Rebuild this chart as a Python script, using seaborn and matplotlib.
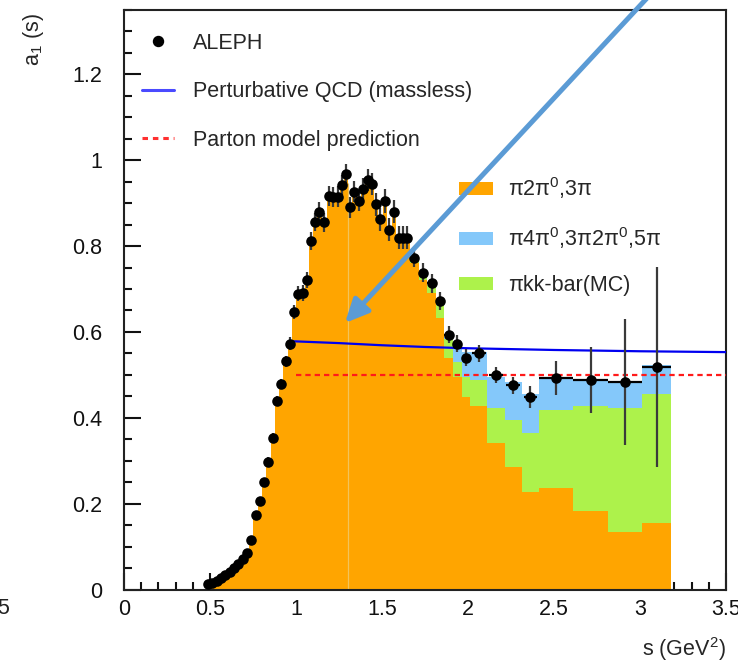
import numpy as np
import matplotlib
matplotlib.use("Agg")
import matplotlib.pyplot as plt
import seaborn as sns
from matplotlib.lines import Line2D
from matplotlib.patches import Patch
from matplotlib.ticker import MultipleLocator, FuncFormatter

# ---------------- data ----------------
# ALEPH a1 spectral function points (s in GeV^2)
aleph_s = [0.489, 0.514, 0.539, 0.564, 0.589, 0.614, 0.639, 0.664, 0.689, 0.714,
           0.739, 0.766, 0.790, 0.815, 0.840, 0.865, 0.890, 0.914, 0.940, 0.963,
           0.989, 1.014, 1.039, 1.063, 1.088, 1.110, 1.136, 1.164, 1.192, 1.218,
           1.243, 1.267, 1.291, 1.315, 1.340, 1.366, 1.391, 1.416, 1.441, 1.466,
           1.490, 1.517, 1.543, 1.570, 1.596, 1.623, 1.648,
           1.688, 1.738, 1.788, 1.838, 1.888, 1.938, 1.988,
           2.063, 2.163, 2.263, 2.363, 2.513, 2.713, 2.913, 3.098]
aleph_a = [0.012, 0.016, 0.020, 0.026, 0.033, 0.041, 0.050, 0.060, 0.072, 0.086,
           0.116, 0.173, 0.206, 0.251, 0.298, 0.354, 0.439, 0.478, 0.532, 0.573,
           0.647, 0.689, 0.691, 0.721, 0.812, 0.857, 0.880, 0.855, 0.917, 0.915,
           0.915, 0.942, 0.967, 0.890, 0.927, 0.906, 0.932, 0.954, 0.944, 0.897,
           0.862, 0.905, 0.838, 0.880, 0.820, 0.820, 0.820,
           0.773, 0.738, 0.713, 0.672, 0.594, 0.573, 0.540,
           0.550, 0.500, 0.476, 0.448, 0.493, 0.488, 0.483, 0.519]
aleph_err = [0.004, 0.004, 0.004, 0.005, 0.005, 0.005, 0.006, 0.006, 0.007, 0.007,
             0.008, 0.008, 0.009, 0.009, 0.010, 0.010, 0.012, 0.012, 0.013, 0.015,
             0.016, 0.017, 0.018, 0.019, 0.020, 0.021, 0.022, 0.022, 0.023, 0.023,
             0.024, 0.024, 0.025, 0.025, 0.025, 0.025, 0.026, 0.026, 0.026, 0.026,
             0.026, 0.027, 0.027, 0.027, 0.027, 0.027, 0.027,
             0.022, 0.022, 0.022, 0.022, 0.020, 0.020, 0.020,
             0.020, 0.018, 0.020, 0.025, 0.040, 0.077, 0.146, 0.233]
aleph_serr = [0.0125] * 47 + [0.025] * 7 + [0.04] * 4 + [0.1, 0.1, 0.1, 0.085]

# stacked MC histograms: coarse bins beyond 1.663 GeV^2
coarse_edges = [1.663, 1.713, 1.763, 1.813, 1.863, 1.913, 1.963, 2.013,
                2.113, 2.213, 2.313, 2.413, 2.613, 2.813, 3.013, 3.183]
orange_coarse = [0.760, 0.722, 0.690, 0.632, 0.539, 0.496, 0.449, 0.428,
                 0.341, 0.286, 0.228, 0.236, 0.184, 0.135, 0.154]
green_coarse = [0.010, 0.014, 0.020, 0.030, 0.045, 0.035, 0.047, 0.060,
                0.081, 0.109, 0.136, 0.182, 0.243, 0.287, 0.302]
blue_coarse = [0.000, 0.000, 0.000, 0.005, 0.005, 0.031, 0.058, 0.066,
               0.074, 0.089, 0.091, 0.072, 0.063, 0.062, 0.066]

# theory curves
qcd_s = [0.97, 1.0, 1.25, 1.5, 1.75, 2.0, 2.5, 3.0, 3.5]
qcd_a = [0.578, 0.578, 0.574, 0.569, 0.565, 0.562, 0.558, 0.555, 0.553]
parton_s = [1.0, 3.5]
parton_a = [0.5, 0.5]

labels_top = ["ALEPH", "Perturbative QCD (massless)", "Parton model prediction"]
labels_mc = [r"π2π$^{\rm 0}$,3π", r"π4π$^{\rm 0}$,3π2π$^{\rm 0}$,5π", "πkk-bar(MC)"]

C_OR = "#ffa500"
C_BL = "#84c8fa"
C_GR = "#adf24b"

# ---------------- style ----------------
sns.set_style("ticks")
plt.rcParams["font.family"] = ["Liberation Sans", "DejaVu Sans"]
plt.rcParams["mathtext.fontset"] = "custom"
plt.rcParams["mathtext.rm"] = "Liberation Sans"
plt.rcParams["mathtext.it"] = "Liberation Sans:italic"
FS = 15.5

fig = plt.figure(figsize=(7.38, 6.61), dpi=100)
ax = fig.add_axes([124 / 738, 71.5 / 661, 602 / 738, 579.5 / 661])

# histogram construction
n_fine = 47
fine_s = np.array(aleph_s[:n_fine])
mids = (fine_s[1:] + fine_s[:-1]) / 2
fine_edges = np.concatenate([[fine_s[0] - 0.0125], mids, [coarse_edges[0]]])
edges = np.concatenate([fine_edges, coarse_edges[1:]])
orange = np.concatenate([aleph_a[:n_fine], orange_coarse])
green = np.concatenate([np.zeros(n_fine), green_coarse])
blue = np.concatenate([np.zeros(n_fine), blue_coarse])

ax.stairs(orange, edges, baseline=0, fill=True, color=C_OR, lw=0, zorder=1)
ax.stairs(orange + green, edges, baseline=orange, fill=True, color=C_GR, lw=0, zorder=1)
ax.stairs(orange + green + blue, edges, baseline=orange + green, fill=True,
          color=C_BL, lw=0, zorder=1)
# faint bin-edge line inside the orange area
i13 = int(np.searchsorted(edges, 1.3)) - 1
ax.vlines(1.3, 0, orange[i13] - 0.02, color="#f3c45a", lw=0.9, zorder=1.5)

# theory lines
sns.lineplot(x=qcd_s, y=qcd_a, ax=ax, color="#0000f0", lw=1.6, zorder=3)
ax.plot(parton_s, parton_a, color="#ff1a1a", lw=1.6, ls=(0, (2.4, 1.8)), zorder=3)

# data
ax.errorbar(aleph_s, aleph_a, yerr=aleph_err, fmt="none", ecolor="#3a3a3a",
            elinewidth=1.6, capsize=0, zorder=4)
ax.errorbar(aleph_s, aleph_a, xerr=aleph_serr, fmt="none", ecolor="k",
            elinewidth=1.6, capsize=0, zorder=4)
sns.scatterplot(x=aleph_s, y=aleph_a, ax=ax, color="k", s=58, linewidth=0, zorder=5)

# axes
ax.set_xlim(0, 3.5)
ax.set_ylim(0, 1.35)
ax.xaxis.set_major_locator(MultipleLocator(0.5))
ax.xaxis.set_minor_locator(MultipleLocator(0.1))
ax.yaxis.set_major_locator(MultipleLocator(0.2))
ax.yaxis.set_minor_locator(MultipleLocator(0.05))
fmt = FuncFormatter(lambda v, p: "%g" % round(v, 3))
ax.xaxis.set_major_formatter(fmt)
ax.yaxis.set_major_formatter(fmt)
ax.tick_params(which="both", direction="in", top=False, right=False,
               colors="#111111", width=1.5, labelsize=FS)
ax.tick_params(which="major", length=12)
ax.tick_params(which="minor", length=6)
ax.tick_params(axis="y", which="major", pad=16)
ax.tick_params(axis="x", which="major", pad=7)
for sp in ax.spines.values():
    sp.set_linewidth(1.5)
    sp.set_color("#222222")
    sp.set_visible(True)

ax.set_xlabel(r"s (GeV$^{\rm 2}$)", fontsize=FS, loc="right")
ax.xaxis.set_label_coords(1.0, -0.078)
ax.set_ylabel(r"a$_{\rm 1}$ (s)", fontsize=FS, loc="top")
ax.yaxis.set_label_coords(-0.13, 0.995)

# legends
h_top = [Line2D([], [], marker="o", ls="none", color="k", markersize=7.2),
         Line2D([], [], color="#4a4aff", lw=2.2),
         Line2D([], [], color="#ff3030", lw=2.2, ls=(0, (1.8, 1.6)))]
leg1 = ax.legend(h_top, labels_top, loc="upper left", frameon=False, fontsize=FS,
                 bbox_to_anchor=(142 / 738, 628 / 661), bbox_transform=fig.transFigure,
                 borderpad=0, borderaxespad=0, handlelength=1.5, handletextpad=0.85,
                 labelspacing=1.27)
ax.add_artist(leg1)
h_mc = [Patch(facecolor=C_OR, lw=0), Patch(facecolor=C_BL, lw=0), Patch(facecolor=C_GR, lw=0)]
ax.legend(h_mc, labels_mc, loc="upper left", frameon=False, fontsize=FS,
          bbox_to_anchor=(459 / 738, 486 / 661), bbox_transform=fig.transFigure,
          borderpad=0, borderaxespad=0, handlelength=1.58, handleheight=0.56,
          handletextpad=0.7, labelspacing=1.12)

# overlay annotation arrow
ax.annotate("", xy=(345, 338), xycoords="figure pixels",
            xytext=(648, 664), textcoords="figure pixels",
            arrowprops=dict(arrowstyle="-|>,head_length=0.7,head_width=0.33",
                            color="#5b9bd5", lw=3.6, shrinkA=0, shrinkB=0,
                            mutation_scale=20),
            annotation_clip=False, zorder=10)

# clipped label fragment at the left edge
fig.text(9 / 738, (661 - 608) / 661, "5", ha="right", va="center", fontsize=FS,
         color="#222222")

fig.savefig("out.png", dpi=100)
